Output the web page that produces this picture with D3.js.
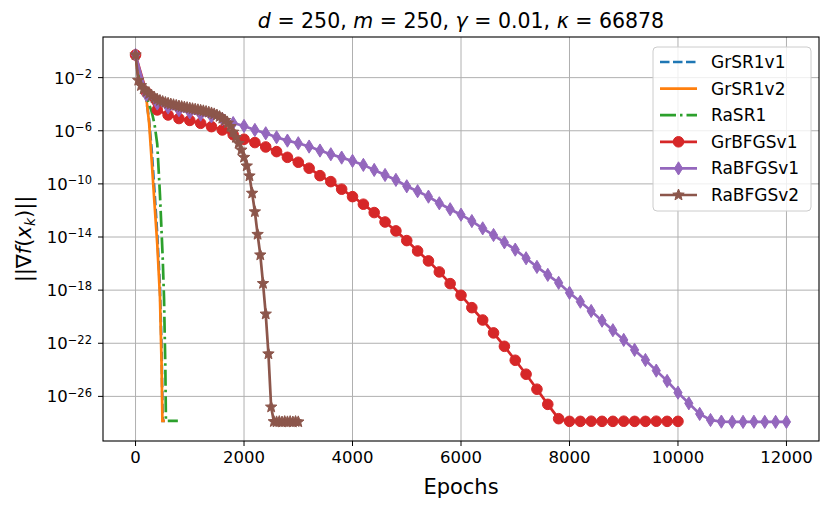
<!DOCTYPE html>
<html>
<head>
<meta charset="utf-8">
<script src="https://cdn.jsdelivr.net/npm/d3@7"></script>
<style>
  body { margin: 0; background: #fff; }
  text { font-family: "DejaVu Sans", sans-serif; }
</style>
</head>
<body>
<div id="chart"></div>
<script>
// values are log10 of ||grad f(x_k)||
const xTicks = [0, 2000, 4000, 6000, 8000, 10000, 12000];
const yTickExps = [-2, -6, -10, -14, -18, -22, -26];

const grsr1v1 = [[0, -0.29], [50, -1.9], [100, -2.4], [150, -2.95], [200, -3.7], [250, -5.2],
    [300, -7.6], [350, -10.6], [400, -13.8], [450, -17.8], [480, -22.5], [500, -27.85], [540, -27.85]];
const grsr1v2 = [[0, -0.29], [50, -1.9], [100, -2.4], [150, -2.9], [200, -3.6], [250, -5.4],
    [300, -8.4], [350, -11.5], [400, -14.5], [450, -18.5], [480, -23.6], [495, -27.85], [540, -27.85]];
const rasr1 = [[0, -0.29], [50, -1.6], [100, -2.3], [150, -2.9], [200, -3.4], [250, -4.0],
    [300, -4.6], [350, -5.5], [400, -7.0], [450, -10.8], [500, -15.5], [525, -18.6], [550, -24],
    [560, -27.85], [780, -27.85]];

// GrBFGSv1, one marker every 200 epochs
const grbfgsv1 = [-0.29, -3.1, -4.43, -4.81, -5.08, -5.22, -5.44, -5.69, -5.94, -6.3, -6.64,
    -6.89, -7.22, -7.57, -8.0, -8.37, -8.82, -9.38, -9.83, -10.4, -10.96, -11.53, -12.16, -12.87,
    -13.54, -14.27, -15.05, -15.8, -16.63, -17.51, -18.39, -19.32, -20.25, -21.22, -22.23, -23.28,
    -24.33, -25.46, -26.6, -27.68, -27.88, -27.88, -27.87, -27.88, -27.88, -27.87, -27.88, -27.88,
    -27.87, -27.88, -27.88];

// RaBFGSv1, one marker every 200 epochs
const rabfgsv1 = [-0.29, -3.3, -3.95, -4.25, -4.45, -4.62, -4.78, -4.92, -5.12, -5.42, -5.64,
    -5.94, -6.19, -6.49, -6.74, -6.94, -7.19, -7.49, -7.77, -8.02, -8.27, -8.57, -8.95, -9.33,
    -9.7, -10.18, -10.55, -10.96, -11.46, -11.91, -12.32, -12.8, -13.35, -13.85, -14.4, -14.95,
    -15.6, -16.25, -16.85, -17.45, -18.2, -18.87, -19.57, -20.3, -21.02, -21.75, -22.5, -23.26,
    -24.06, -24.84, -25.72, -26.52, -27.32, -27.78, -27.9, -27.92, -27.92, -27.91, -27.92, -27.92,
    -27.92];

// RaBFGSv2, one marker every 50 epochs
const rabfgsv2 = [-0.29, -2.2, -2.6, -2.85, -3.05, -3.2, -3.38, -3.52, -3.63, -3.72, -3.8,
    -3.87, -3.93, -3.99, -4.04, -4.09, -4.14, -4.18, -4.22, -4.26, -4.3, -4.34, -4.38, -4.42,
    -4.46, -4.5, -4.55, -4.6, -4.66, -4.73, -4.82, -4.93, -5.06, -5.22, -5.42, -5.68, -6.1,
    -6.5, -6.95, -7.45, -8.0, -8.65, -9.4, -10.7, -12.1, -13.8, -15.35, -17.5, -19.8, -22.8,
    -26.8, -27.9, -27.92, -27.9, -27.93, -27.9, -27.92, -27.9, -27.93, -27.9, -27.92];

const width = 831;
const height = 508;
const margin = { left: 103, right: 12, top: 37, bottom: 67 };

const x = d3.scaleLinear()
    .domain([-600, 12600])
    .range([margin.left, width - margin.right]);
const y = d3.scaleLog()
    .domain([Math.pow(10, -29.36), Math.pow(10, 1.06)])
    .range([height - margin.bottom, margin.top]);

const svg = d3.select("#chart").append("svg")
    .attr("width", width)
    .attr("height", height);

// grid
const grid = svg.append("g").attr("stroke", "#b0b0b0").attr("stroke-width", 1);
grid.selectAll(".gx").data(xTicks).enter().append("line")
    .attr("x1", d => x(d)).attr("x2", d => x(d))
    .attr("y1", margin.top).attr("y2", height - margin.bottom);
grid.selectAll(".gy").data(yTickExps).enter().append("line")
    .attr("x1", margin.left).attr("x2", width - margin.right)
    .attr("y1", d => y(Math.pow(10, d))).attr("y2", d => y(Math.pow(10, d)));

// series
const toPts = (arr, step) => arr.map((v, i) => [i * step, v]);
const series = [
    { name: "GrSR1v1", color: "#1f77b4", pts: grsr1v1, dash: "9.5,3.5" },
    { name: "GrSR1v2", color: "#ff7f0e", pts: grsr1v2 },
    { name: "RaSR1", color: "#2ca02c", pts: rasr1, dash: "16,4,2.5,4" },
    { name: "GrBFGSv1", color: "#d62728", pts: toPts(grbfgsv1, 200), marker: "circle" },
    { name: "RaBFGSv1", color: "#9467bd", pts: toPts(rabfgsv1, 200), marker: "diamond" },
    { name: "RaBFGSv2", color: "#8c564b", pts: toPts(rabfgsv2, 50), marker: "star" }
];

const line = d3.line()
    .x(d => x(d[0]))
    .y(d => y(Math.pow(10, d[1])));

function markerPath(kind) {
    if (kind === "circle") return d3.symbol(d3.symbolCircle, 88)();
    if (kind === "diamond") return "M0,-6.6L4.1,0L0,6.6L-4.1,0Z";
    // five pointed star
    let p = [];
    for (let i = 0; i < 10; i++) {
        const r = i % 2 === 0 ? 6 : 2.6;
        const a = -Math.PI / 2 + i * Math.PI / 5;
        p.push([r * Math.cos(a), r * Math.sin(a)]);
    }
    return "M" + p.map(q => q[0].toFixed(2) + "," + q[1].toFixed(2)).join("L") + "Z";
}

const plot = svg.append("g");
series.forEach(s => {
    const g = plot.append("g");
    g.append("path")
        .attr("d", line(s.pts))
        .attr("fill", "none")
        .attr("stroke", s.color)
        .attr("stroke-width", 2.7)
        .attr("stroke-dasharray", s.dash || null);
    if (s.marker) {
        g.selectAll("path.m").data(s.pts).enter().append("path")
            .attr("class", "m")
            .attr("d", markerPath(s.marker))
            .attr("transform", d => `translate(${x(d[0])},${y(Math.pow(10, d[1]))})`)
            .attr("fill", s.color)
            .attr("stroke", s.color)
            .attr("stroke-width", 1);
    }
});

// frame
svg.append("rect")
    .attr("x", margin.left).attr("y", margin.top)
    .attr("width", width - margin.left - margin.right)
    .attr("height", height - margin.top - margin.bottom)
    .attr("fill", "none").attr("stroke", "#000").attr("stroke-width", 1.1);

// x axis
const xAxis = svg.append("g");
xAxis.selectAll("line").data(xTicks).enter().append("line")
    .attr("x1", d => x(d)).attr("x2", d => x(d))
    .attr("y1", height - margin.bottom).attr("y2", height - margin.bottom + 5)
    .attr("stroke", "#000");
xAxis.selectAll("text").data(xTicks).enter().append("text")
    .attr("x", d => x(d)).attr("y", height - margin.bottom + 22)
    .attr("text-anchor", "middle")
    .style("font-size", "16.5px")
    .text(d => d);

// y axis
const yAxis = svg.append("g");
yAxis.selectAll("line").data(yTickExps).enter().append("line")
    .attr("x1", margin.left - 5).attr("x2", margin.left)
    .attr("y1", d => y(Math.pow(10, d))).attr("y2", d => y(Math.pow(10, d)))
    .attr("stroke", "#000");
const yt = yAxis.selectAll("text").data(yTickExps).enter().append("text")
    .attr("x", margin.left - 11).attr("y", d => y(Math.pow(10, d)) + 6)
    .attr("text-anchor", "end")
    .style("font-size", "16.5px");
yt.append("tspan").text("10");
yt.append("tspan").attr("dy", "-0.5em").style("font-size", "11.5px").text(d => "\u2212" + (-d));

// labels
svg.append("text")
    .attr("x", (margin.left + width - margin.right) / 2)
    .attr("y", 494)
    .attr("text-anchor", "middle")
    .style("font-size", "21px")
    .text("Epochs");

const yl = svg.append("text")
    .attr("transform", `translate(31,${(margin.top + height - margin.bottom) / 2}) rotate(-90)`)
    .attr("text-anchor", "middle")
    .style("font-size", "21px");
yl.append("tspan").text("||\u2207");
yl.append("tspan").style("font-style", "italic").text("f");
yl.append("tspan").text("(");
yl.append("tspan").style("font-style", "italic").text("x");
yl.append("tspan").style("font-style", "italic").style("font-size", "14px").attr("dy", "4").text("k");
yl.append("tspan").attr("dy", "-4").text(")||");

const title = svg.append("text")
    .attr("x", (margin.left + width - margin.right) / 2)
    .attr("y", 28)
    .attr("text-anchor", "middle")
    .style("font-size", "20.5px");
[["d", true], [" = 250, ", false], ["m", true], [" = 250, ", false], ["\u03b3", true],
 [" = 0.01, ", false], ["\u03ba", true], [" = 66878", false]].forEach(p => {
    title.append("tspan").style("font-style", p[1] ? "italic" : "normal").text(p[0]);
});

// legend
const lg = svg.append("g").attr("transform", "translate(653,47)");
lg.append("rect")
    .attr("width", 158).attr("height", 164)
    .attr("rx", 4)
    .attr("fill", "#fff").attr("fill-opacity", 0.8)
    .attr("stroke", "#cccccc");
series.forEach((s, i) => {
    const row = lg.append("g").attr("transform", `translate(0,${15 + i * 26.6})`);
    row.append("line")
        .attr("x1", 7).attr("x2", 44)
        .attr("stroke", s.color).attr("stroke-width", 2.7)
        .attr("stroke-dasharray", s.dash || null);
    if (s.marker) {
        row.append("path")
            .attr("d", markerPath(s.marker))
            .attr("transform", "translate(25.5,0)")
            .attr("fill", s.color).attr("stroke", s.color);
    }
    row.append("text")
        .attr("x", 58).attr("y", 6)
        .style("font-size", "17px")
        .text(s.name);
});
</script>
</body>
</html>
